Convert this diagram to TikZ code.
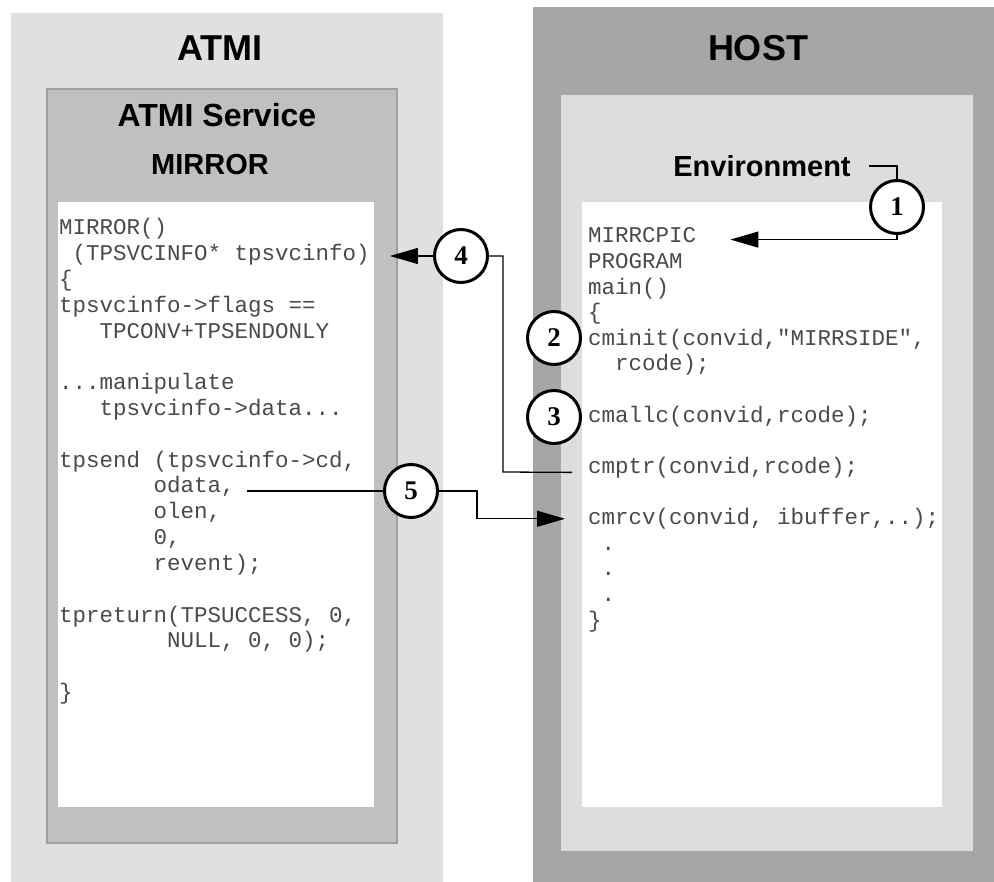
\documentclass[tikz,border=0pt]{standalone}
\usepackage{fontspec}
\setmainfont{Liberation Sans}
\setmonofont{Liberation Mono}
\newfontfamily\numfont{Liberation Serif}
\usetikzlibrary{arrows.meta,calc}
\definecolor{atmibg}{HTML}{E0E0E0}
\definecolor{svcbg}{HTML}{C0C0C0}
\definecolor{svcline}{HTML}{A0A0A0}
\definecolor{hostbg}{HTML}{A6A6A6}
\definecolor{envbg}{HTML}{DDDDDD}
\definecolor{codeink}{HTML}{4A4A4A}
\newcommand{\fsz}[1]{\fontsize{#1}{#1}\selectfont}

\begin{document}
\begin{tikzpicture}[x=1pt,y=-1pt,
  ttl/.style={inner sep=0pt,font=\bfseries\fsz{#1}},
  code/.style={anchor=base west,inner sep=0pt,text=codeink,font=\ttfamily\fsz{22.5}},
  num/.style={circle,draw,fill=white,line width=3pt,minimum size=53pt,inner sep=0pt,
    font=\numfont\bfseries\fsz{27}},
  conn/.style={line width=1.3pt},
  arr/.style={conn,-{Triangle[length=28pt,width=16pt]}}]
  \useasboundingbox (0,0) rectangle (994,882);
  \fill[white] (0,0) rectangle (994,882);
  \fill[atmibg] (11,13) rectangle (443,882);
  \filldraw[fill=svcbg,draw=svcline,line width=1.2pt] (47,89) rectangle (397,843);
  \fill[white] (58,202) rectangle (374,807);
  \fill[hostbg] (533,7) rectangle (994,882);
  \fill[envbg] (561,95) rectangle (973,851);
  \fill[white] (582,202) rectangle (942,807);

  \node[ttl=36] (atmi) at (220,48) {ATMI};
  \node[ttl=32] (svc) at (217,115) {ATMI Service};
  \node[ttl=29] (mirror) at (210,165) {MIRROR};
  \node[ttl=36] (host) at (758,48) {HOST};
  \node[ttl=29] (env) at (762,166) {Environment};

  \foreach \n/\t in {0/{MIRROR()}, 1/{\hphantom{0}(TPSVCINFO* tpsvcinfo)}, 2/{\{},
    3/{tpsvcinfo->flags ==}, 4/{\hphantom{000}TPCONV+TPSENDONLY},
    6/{...manipulate}, 7/{\hphantom{000}tpsvcinfo->data...},
    9/{tpsend (tpsvcinfo->cd,}, 10/{\hphantom{0000000}odata,},
    11/{\hphantom{0000000}olen,}, 12/{\hphantom{0000000}0,},
    13/{\hphantom{0000000}revent);}, 15/{tpreturn(TPSUCCESS, 0,},
    16/{\hphantom{00000000}NULL, 0, 0);}, 18/{\}}}
    \node[code] (L\n) at (59,{235+25.8*\n}) {\t};

  \foreach \n/\t in {0/{MIRRCPIC}, 1/{PROGRAM}, 2/{main()}, 3/{\{},
    4/{cminit(convid,"MIRRSIDE",}, 5/{\hphantom{00}rcode);},
    7/{cmallc(convid,rcode);}, 9/{cmptr(convid,rcode);},
    11/{cmrcv(convid, ibuffer,..);}, 12/{\hphantom{0}.}, 13/{\hphantom{0}.},
    14/{\hphantom{0}.}, 15/{\}}}
    \node[code] (R\n) at (588,{243+25.6*\n}) {\t};

  \node[num] (n1) at (897,207) {1};
  \node[num] (n2) at (554,338) {2};
  \node[num] (n3) at (554,417) {3};
  \node[num] (n4) at (461,256) {4};
  \node[num] (n5) at (411,491) {5};

  \draw[conn] ($(env.east)+(18,0)$) -| (n1.north);
  \draw[arr] (n1.south) |- ($(R0.east)+(34,4)$);

  \coordinate (k4) at (503,472);
  \draw[conn] ($(R9.base west)+(-16,-1)$) -- (k4) |- (n4.east);
  \draw[arr] (n4.west) -- ($(n4.west -| L1.east)+(20,0)$);

  \coordinate (k5) at (477,491);
  \draw[conn] ($(n5.west -| L10.east)+(12,0)$) -- (n5.west);
  \draw[arr] (n5.east) -- (k5) |- ($(R11.west)+(-23,0)$);
\end{tikzpicture}
\end{document}
